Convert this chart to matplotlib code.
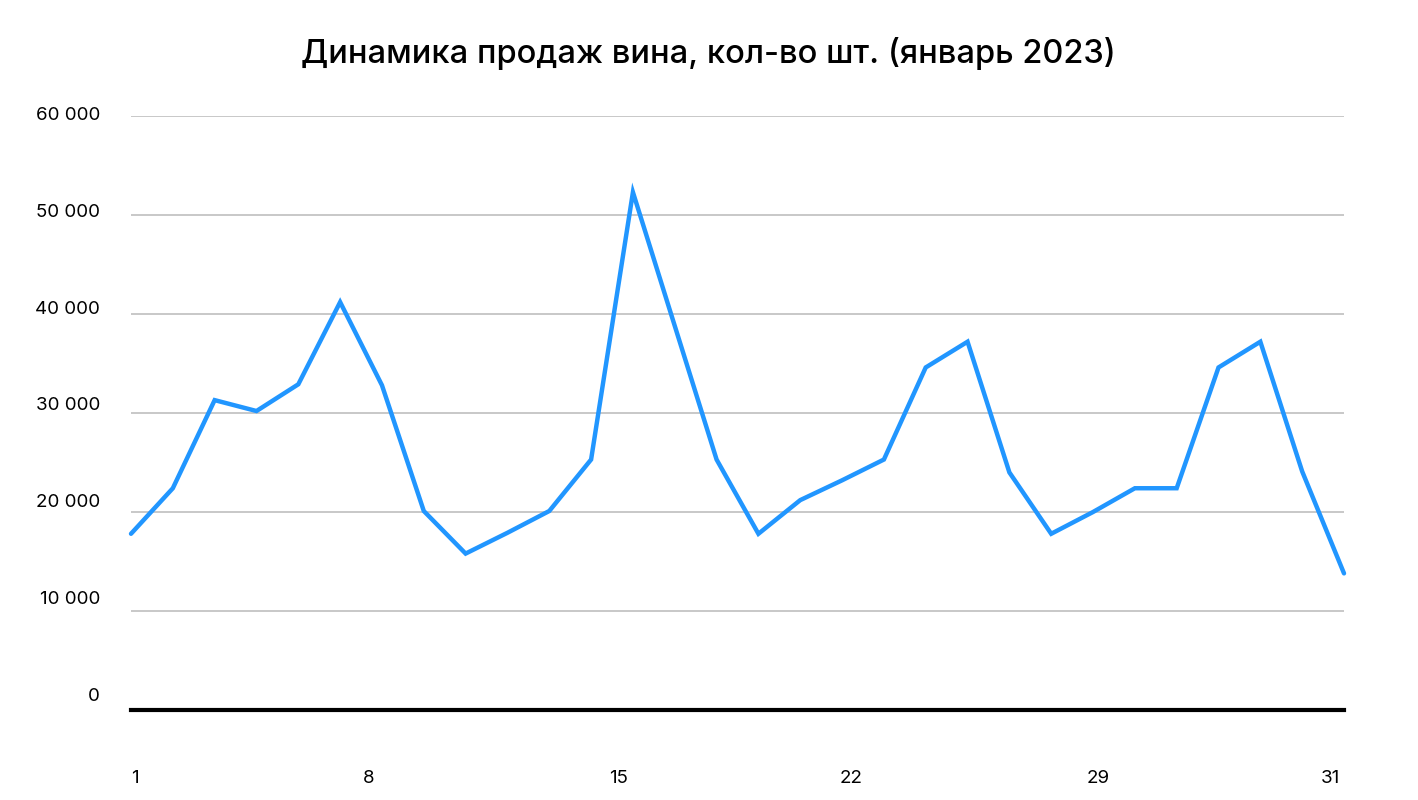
import matplotlib
matplotlib.use("Agg")
import matplotlib.pyplot as plt
import matplotlib.transforms as mtransforms
import numpy as np

# daily wine sales, January 2023 (pcs)
sales = [17800, 22400, 31300, 30200, 32900, 41200, 32800, 20100, 15800, 17900,
         20100, 25300, 52300, 38800, 25300, 17800, 21200, 23200, 25300, 34600,
         37200, 24000, 17800, 20000, 22400, 22400, 34600, 37200, 24100, 13800]
x_labels = ['1', '8', '15', '22', '29', '31']
y_ticks = [0, 10000, 20000, 30000, 40000, 50000, 60000]
title = "Динамика продаж вина, кол-во шт. (январь 2023)"

plt.rcParams['font.family'] = ['Inter', 'DejaVu Sans']

x = np.arange(len(sales))
# label slots along the category axis (as placed in the original layout)
x_label_pos = [0.09, 5.69, 11.65, 17.22, 23.13, 28.67]

fig = plt.figure(figsize=(14.18, 8.0), dpi=100)
ax = fig.add_axes([131/1418, 90/800, (1344-131)/1418, (710-116)/800])

for v in y_ticks[1:]:
    ax.axhline(v, color='#bfbfbf', lw=1.2, zorder=1)
ax.axhline(0, color='black', lw=3.0, zorder=3, clip_on=False)

ax.plot(x, sales, color='#2196ff', lw=3.2, solid_capstyle='round',
        solid_joinstyle='miter', zorder=4, clip_on=False)

ax.set_xlim(0, len(sales) - 1)
ax.set_ylim(0, 60000)
for s in ax.spines.values():
    s.set_visible(False)

ax.set_xticks(x_label_pos)
ax.set_xticklabels(x_labels, fontsize=13.5)
ax.tick_params(axis='x', length=0, pad=43)
ax.set_yticks([])

# y labels sit slightly above the gridlines, on their own spacing
def from_lab(t):
    return (t + 1652.4) / 1.02237

trans = mtransforms.blended_transform_factory(ax.transAxes, ax.transData)
trans = mtransforms.offset_copy(trans, fig=fig, x=-31, y=-2.5, units='dots')
for v in y_ticks:
    ax.text(0, from_lab(v), f"{v:,}".replace(',', ' '), transform=trans,
            ha='right', va='center', fontsize=13.5, clip_on=False)

fig.text(0.4995, 1 - 53/800, title, ha='center', va='center',
         fontsize=23.5, fontweight='medium')

fig.savefig('out.png', dpi=100)
